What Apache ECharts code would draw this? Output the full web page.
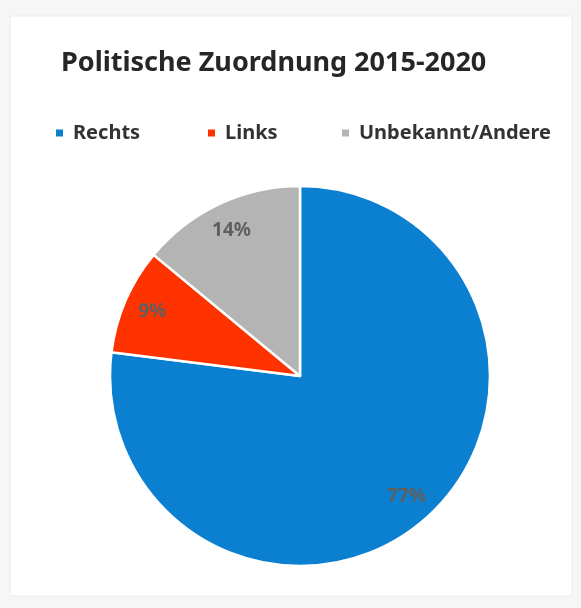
<!DOCTYPE html>
<html><head><meta charset="utf-8">
<script src="https://cdn.jsdelivr.net/npm/echarts@6/dist/echarts.min.js"></script>
<style>html,body{margin:0;padding:0;background:#f6f6f6}#c{width:581px;height:608px}</style>
</head><body><div id="c"></div>
<script>
const categories = ['Rechts', 'Links', 'Unbekannt/Andere'];
const values = [77, 9, 14];
const colors = ['#0b80d1', '#fe3300', '#b4b4b4'];
const titleText = 'Politische Zuordnung 2015-2020';
const legendLeft = [49, 201, 335];

const data = categories.map((n, i) => ({ name: n, value: values[i], itemStyle: { color: colors[i] } }));
const labelData = categories.map((n, i) => ({ name: n, value: values[i] }));
const legendFont = { fontFamily: 'Noto Sans', fontSize: 20, fontWeight: 'bold', color: '#333', padding: [0, 0, 0, 4] };

const chart = echarts.init(document.getElementById('c'));
chart.setOption({
  backgroundColor: '#f6f6f6',
  graphic: [{ type: 'rect', shape: { x: 10, y: 16, width: 562, height: 580 }, style: { fill: '#ffffff', stroke: '#ececec', lineWidth: 1 }, silent: true, z: -10 }],
  title: {
    text: titleText, left: 56, top: 45,
    textStyle: { fontFamily: 'Noto Sans', fontSize: 27, fontWeight: 'bold', color: '#262626' }
  },
  legend: categories.map((n, i) => ({
    data: [n], left: legendLeft[i], top: 118, itemWidth: 9, itemHeight: 9, icon: 'rect',
    textStyle: legendFont, selectedMode: false
  })),
  series: [
    {
      type: 'pie', center: [300, 376], radius: [0, 190], startAngle: 90, clockwise: true,
      data: data, label: { show: false }, labelLine: { show: false },
      itemStyle: { borderColor: '#fff', borderWidth: 2.5 }, silent: true, animation: false
    },
    {
      type: 'pie', center: [300, 376], radius: [126, 190], startAngle: 90, clockwise: true,
      data: labelData, itemStyle: { color: 'rgba(0,0,0,0)' }, silent: true, animation: false,
      label: { show: true, position: 'inside', formatter: '{c}%', fontFamily: 'Noto Sans', fontSize: 19, fontWeight: 'bold', color: '#5f5f5f' },
      labelLine: { show: false }, emphasis: { disabled: true }
    }
  ]
});
</script></body></html>
